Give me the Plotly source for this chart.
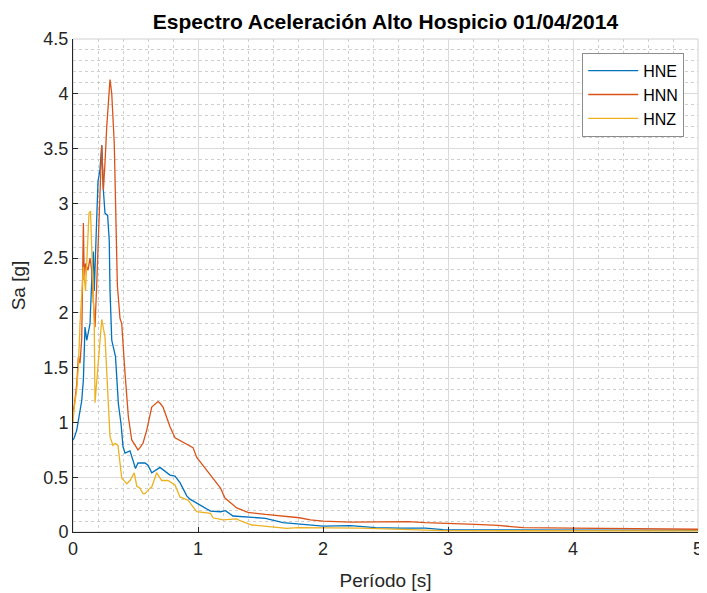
import plotly.graph_objects as go

# Period [s] and spectral acceleration [g]
hne_t = [0.0, 0.01, 0.03, 0.056, 0.07, 0.083, 0.096, 0.11, 0.136, 0.15, 0.163, 0.17, 0.19, 0.2, 0.215,
         0.23, 0.243, 0.256, 0.277, 0.29, 0.296, 0.31, 0.34, 0.363, 0.384, 0.4, 0.416, 0.443, 0.456,
         0.5, 0.52, 0.576, 0.6, 0.63, 0.696, 0.776, 0.816, 0.856, 0.91, 0.936, 1.016, 1.1, 1.18,
         1.22, 1.28, 1.42, 1.54, 1.68, 1.8, 2.0, 2.22, 2.42, 2.62, 2.82, 2.96, 3.35, 4.0, 4.5, 5.0]
hne_sa = [0.84, 0.86, 0.93, 1.11, 1.2, 1.39, 1.87, 1.75, 1.9, 2.3, 2.56, 2.2, 2.76, 3.2, 3.3,
          3.53, 3.12, 2.91, 2.89, 2.66, 2.21, 1.75, 1.6, 1.17, 0.99, 0.78, 0.72, 0.73, 0.74,
          0.58, 0.63, 0.63, 0.61, 0.54, 0.59, 0.52, 0.51, 0.45, 0.33, 0.3, 0.25, 0.19, 0.185,
          0.195, 0.146, 0.134, 0.125, 0.085, 0.073, 0.053, 0.058, 0.04, 0.035, 0.035, 0.022, 0.02, 0.018, 0.016, 0.015]

hnn_t = [0.0, 0.01, 0.03, 0.043, 0.056, 0.07, 0.083, 0.09, 0.1, 0.12, 0.136, 0.15, 0.163, 0.176, 0.19,
         0.2, 0.216, 0.23, 0.243, 0.256, 0.27, 0.296, 0.31, 0.33, 0.345, 0.355, 0.376, 0.39, 0.416,
         0.443, 0.47, 0.5, 0.52, 0.536, 0.56, 0.59, 0.63, 0.68, 0.7, 0.72, 0.776, 0.816, 0.91, 0.96,
         0.99, 1.04, 1.1, 1.18, 1.216, 1.31, 1.4, 1.54, 1.68, 1.81, 1.9, 2.0, 2.22, 2.42, 2.62, 2.68,
         2.82, 3.02, 3.22, 3.4, 3.6, 4.0, 4.33, 5.0]
hnn_sa = [1.1, 1.15, 1.35, 1.6, 1.54, 1.77, 2.82, 2.3, 2.45, 2.39, 2.5, 2.39, 2.1, 1.87, 2.27,
          2.65, 3.09, 3.53, 3.12, 3.37, 3.7, 4.13, 4.0, 3.55, 2.9, 2.25, 1.95, 1.9, 1.45,
          1.05, 0.84, 0.78, 0.75, 0.77, 0.81, 0.93, 1.14, 1.19, 1.17, 1.14, 0.96, 0.86, 0.8, 0.77,
          0.68, 0.61, 0.52, 0.4, 0.31, 0.22, 0.18, 0.16, 0.145, 0.13, 0.11, 0.1, 0.09, 0.095, 0.1, 0.095,
          0.085, 0.08, 0.07, 0.06, 0.04, 0.035, 0.03, 0.025]

hnz_t = [0.0, 0.01, 0.03, 0.043, 0.056, 0.07, 0.083, 0.1, 0.128, 0.14, 0.15, 0.163, 0.17, 0.176, 0.2,
         0.23, 0.256, 0.28, 0.296, 0.32, 0.336, 0.36, 0.39, 0.416, 0.43, 0.456, 0.49, 0.51, 0.536,
         0.56, 0.576, 0.616, 0.63, 0.67, 0.71, 0.76, 0.816, 0.856, 0.92, 0.99, 1.1, 1.12, 1.2, 1.31,
         1.336, 1.43, 1.55, 1.71, 1.8, 2.0, 2.3, 2.96, 4.0, 5.0]
hnz_sa = [1.0, 1.14, 1.3, 1.51, 1.9, 2.2, 2.42, 2.2, 2.91, 2.93, 2.6, 2.2, 1.9, 1.18, 1.51,
          1.94, 1.78, 1.3, 0.87, 0.79, 0.81, 0.79, 0.49, 0.46, 0.44, 0.47, 0.54, 0.42, 0.4,
          0.35, 0.35, 0.4, 0.41, 0.54, 0.47, 0.47, 0.43, 0.32, 0.29, 0.185, 0.17, 0.13, 0.11, 0.12,
          0.103, 0.064, 0.05, 0.034, 0.04, 0.038, 0.035, 0.012, 0.012, 0.01]

series_names = ["HNE", "HNN", "HNZ"]
series_colors = ["#0072BD", "#D95319", "#EDB120"]

fig = go.Figure()
for name, color, t, sa in zip(series_names, series_colors,
                              [hne_t, hnn_t, hnz_t], [hne_sa, hnn_sa, hnz_sa]):
    fig.add_trace(go.Scatter(x=t, y=sa, mode="lines", name=name,
                             line=dict(color=color, width=1.3)))

font_family = "Liberation Sans, Arial, sans-serif"
axis_color = "#262626"

fig.update_layout(
    width=699, height=585,
    margin=dict(l=65, r=9, t=31, b=61, autoexpand=False),
    paper_bgcolor="white", plot_bgcolor="white",
    font=dict(family=font_family, size=18, color=axis_color),
    title=dict(text="<b>Espectro Aceleración Alto Hospicio 01/04/2014</b>",
               x=0.5, xref="paper", xanchor="center", y=0.976, yanchor="middle",
               font=dict(size=21, color="black")),
    showlegend=True,
    legend=dict(x=0.978, xanchor="right", y=0.972, yanchor="top",
                bgcolor="white", bordercolor="#8c8c8c", borderwidth=1,
                font=dict(size=16, color="black"), tracegroupgap=0,
                itemwidth=50),
)

fig.update_xaxes(
    range=[0, 5], dtick=1, tick0=0, automargin=False,
    ticks="inside", ticklen=5, tickcolor=axis_color,
    showline=True, linecolor=axis_color, linewidth=1,
    showgrid=True, gridcolor="#dadada", gridwidth=1,
    zeroline=False,
    minor=dict(dtick=0.2, showgrid=True, gridcolor="#cfcfcf", griddash="dot", ticks=""),
    title=dict(text="Período [s]", font=dict(size=19), standoff=16),
)
fig.update_yaxes(
    range=[0, 4.5], dtick=0.5, tick0=0, automargin=False,
    ticks="inside", ticklen=5, tickcolor=axis_color,
    showline=True, linecolor=axis_color, linewidth=1,
    showgrid=True, gridcolor="#dadada", gridwidth=1,
    zeroline=False,
    minor=dict(dtick=0.1, showgrid=True, gridcolor="#cfcfcf", griddash="dot", ticks=""),
    title=dict(text="Sa [g]", font=dict(size=19), standoff=12),
)

# light frame on top and right edges
fig.add_shape(type="rect", xref="paper", yref="paper", x0=0, y0=0, x1=1, y1=1,
              line=dict(color="#d0d0d0", width=1), layer="below")

fig.write_html("out.html")
